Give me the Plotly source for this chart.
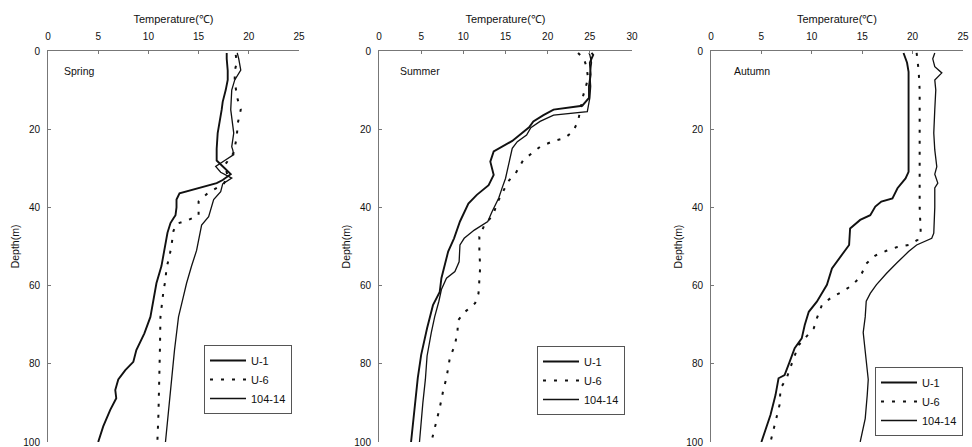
import plotly.graph_objects as go

# ---------------- data ----------------
x_ticks = [0, 5, 10, 15, 20, 25]
x_ticks_summer = [0, 5, 10, 15, 20, 25, 30]
depth_ticks = [0, 20, 40, 60, 80, 100]
series_names = ["U-1", "U-6", "104-14"]
season_names = ["Spring", "Summer", "Autumn"]

# Spring
spring_u1_depth = [0.5, 2, 5, 7.4, 10, 13, 15, 18, 21, 25, 28, 30, 31.5, 33, 33.8, 36.4, 38, 40, 42, 42.8, 44, 46.5, 51, 55, 59.4, 63.7, 68, 72.2, 76.5, 79.5, 81.6, 84, 86.7, 88.8, 91.8, 96, 100]
spring_u1_temp = [17.8, 17.8, 17.9, 17.9, 17.7, 17.4, 17.3, 17.1, 16.9, 16.8, 16.8, 17.6, 18.2, 17.4, 16.8, 13.1, 12.8, 12.8, 12.7, 12.5, 12.2, 11.9, 11.6, 11.3, 10.8, 10.5, 10.2, 9.6, 8.8, 8.5, 7.7, 7.0, 6.7, 6.8, 6.2, 5.5, 5.0]
spring_u6_depth = [1, 3, 5, 8, 12.5, 15, 18.5, 22, 26, 29.2, 32, 34, 36.4, 38.5, 42, 43.3, 44.2, 46, 49.7, 52.5, 55.5, 58.5, 61.4, 68, 76, 85, 93, 99.5]
spring_u6_temp = [18.7, 18.8, 18.6, 18.6, 18.9, 19.2, 18.9, 18.8, 18.5, 17.6, 17.9, 17.5, 15.9, 15.0, 15.0, 13.9, 12.8, 12.5, 12.3, 12.1, 11.8, 11.7, 11.5, 11.2, 11.15, 11.1, 11.0, 10.9]
spring_s104_depth = [0.5, 2, 4.9, 7.4, 10, 15, 21, 24.5, 25.3, 26.5, 28, 29.5, 31, 32.5, 34, 36, 38, 42.4, 44.5, 51, 55, 59.4, 63.7, 68, 76.5, 85, 93, 100]
spring_s104_temp = [18.85, 19.0, 19.2, 18.6, 18.3, 18.2, 18.5, 18.3, 18.4, 18.5, 17.6, 16.7, 17.2, 18.3, 17.4, 17.2, 16.5, 16.0, 15.3, 14.8, 14.3, 13.8, 13.4, 13.0, 12.6, 12.3, 12.0, 11.7]

# Summer
summer_u1_depth = [0.5, 1, 3, 6, 9, 12, 14, 15, 16.4, 18, 19.5, 21, 23, 25.7, 28.3, 31.7, 34.3, 36.8, 39, 43.6, 47.9, 51.3, 54.7, 58.1, 61.6, 65, 70.9, 77.7, 83.6, 92.2, 100]
summer_u1_temp = [25.2, 25.4, 25.0, 25.1, 24.9, 24.9, 24.1, 20.7, 19.5, 18.3, 17.8, 17.0, 15.8, 13.6, 13.2, 13.6, 13.0, 11.6, 10.6, 9.6, 8.9, 8.2, 7.8, 7.4, 7.2, 6.4, 5.7, 5.0, 4.6, 4.2, 3.8]
summer_u6_depth = [0.5, 2, 4, 7, 11.5, 15, 18, 20.6, 22.3, 23, 24.5, 26.2, 27.9, 30.9, 33.4, 36, 38.5, 42, 44.5, 47.5, 51.3, 55.2, 58.1, 62, 64.5, 66.7, 68.8, 71.8, 75.2, 78.5, 83.6, 87, 91.3, 95.6, 100]
summer_u6_temp = [23.6, 24.3, 24.6, 24.8, 24.2, 23.9, 23.6, 23.0, 22.0, 20.7, 19.1, 18.1, 17.1, 16.3, 15.3, 14.7, 14.1, 13.5, 12.5, 11.9, 11.9, 12.0, 11.9, 11.8, 11.4, 10.2, 9.4, 9.3, 9.0, 8.4, 8.0, 7.6, 7.2, 6.7, 6.2]
summer_s104_depth = [0.5, 1, 3, 6, 9, 12, 15.5, 16.4, 18, 19.6, 21.5, 23.2, 24.9, 29.2, 32.6, 35, 37.6, 41.1, 43.6, 45.8, 47.9, 49.6, 53.9, 56.4, 58.1, 61, 64, 68, 72, 78, 84, 90, 95, 100]
summer_s104_temp = [24.9, 25.0, 25.2, 25.0, 25.1, 25.0, 24.7, 20.7, 19.1, 18.0, 17.5, 16.4, 15.8, 15.4, 15.0, 14.6, 14.2, 13.4, 12.9, 11.3, 10.1, 9.6, 9.5, 9.0, 8.0, 7.4, 7.1, 6.6, 6.2, 5.7, 5.5, 5.2, 5.0, 4.8]

# Autumn
autumn_u1_depth = [0.5, 1.5, 3, 5.3, 10, 20, 30.9, 32.6, 35.1, 37.7, 38.5, 39.8, 42, 43.2, 45.4, 49.6, 52.2, 55.6, 59.8, 64.1, 66.7, 70.1, 73.5, 76, 79.5, 82.9, 83.7, 88, 93.1, 100]
autumn_u1_temp = [19.1, 19.25, 19.45, 19.6, 19.6, 19.6, 19.6, 19.3, 18.5, 18.0, 16.9, 16.3, 15.8, 14.8, 13.8, 13.7, 13.0, 12.0, 11.5, 10.5, 9.7, 9.3, 9.0, 8.3, 7.8, 7.3, 6.7, 6.4, 5.9, 5.0]
autumn_u6_depth = [0.5, 5, 10, 20, 30, 40, 46, 48.3, 49.6, 50.2, 51.1, 52.3, 54.4, 57.8, 59.9, 61.6, 62.9, 65, 68.4, 70.9, 73.5, 75.2, 78.6, 83.7, 86.3, 90.5, 94.8, 100]
autumn_u6_temp = [20.4, 20.6, 20.7, 20.7, 20.7, 20.7, 20.8, 20.5, 19.6, 18.4, 17.4, 16.3, 15.4, 14.8, 14.0, 13.0, 12.0, 11.0, 10.5, 10.2, 9.3, 8.7, 8.2, 7.5, 6.9, 6.8, 6.4, 5.9]
autumn_s104_depth = [0.5, 2, 4, 5.6, 7.4, 10, 15, 21, 25.3, 29.6, 31.5, 33.8, 35, 40, 46.6, 47.9, 49.6, 51.3, 54.3, 56.9, 59.8, 62, 64, 68, 72, 80.7, 84, 88, 94, 100]
autumn_s104_temp = [22.2, 22.0, 22.2, 22.9, 22.2, 22.3, 22.2, 22.1, 22.2, 22.4, 22.2, 22.5, 22.2, 22.2, 22.1, 21.9, 20.4, 19.6, 18.4, 17.4, 16.4, 15.8, 15.4, 15.3, 15.1, 15.5, 15.6, 15.5, 15.3, 14.8]

# ---------------- figure ----------------
W, H = 972, 447
ML, MR, MT, MB = 48, 9, 51, 5
PW = W - ML - MR
PH = H - MT - MB
FONT = "Liberation Sans, Arial, sans-serif"
INK = "#111111"
AXC = "#777777"

panels = [
    (season_names[0], [spring_u1_temp, spring_u6_temp, spring_s104_temp],
     [spring_u1_depth, spring_u6_depth, spring_s104_depth], [0, 25], x_ticks, (48, 299), (204, 347), 1.4),
    (season_names[1], [summer_u1_temp, summer_u6_temp, summer_s104_temp],
     [summer_u1_depth, summer_u6_depth, summer_s104_depth], [0, 30], x_ticks_summer, (379, 632), (537, 348), 2.3),
    (season_names[2], [autumn_u1_temp, autumn_u6_temp, autumn_s104_temp],
     [autumn_u1_depth, autumn_u6_depth, autumn_s104_depth], [0, 25], x_ticks, (711, 963), (875, 369), 2.1),
]

styles = [
    dict(color=INK, width=1.9, dash="solid"),
    dict(color=INK, width=2.0, dash="3px,8px"),
    dict(color=INK, width=1.3, dash="solid"),
]

fig = go.Figure()
layout = dict(
    width=W, height=H,
    margin=dict(l=ML, r=MR, t=MT, b=MB, autoexpand=False),
    paper_bgcolor="white", plot_bgcolor="white",
    font=dict(family=FONT, size=10, color=INK),
    annotations=[],
)

for i, (season, temps, depths, xr, xt, (px0, px1), (lx, ly), ann_x) in enumerate(panels):
    k = "" if i == 0 else str(i + 1)
    legname = "legend" + k
    for j in range(3):
        fig.add_trace(go.Scatter(
            x=temps[j], y=depths[j], mode="lines", name=series_names[j],
            line=styles[j], xaxis="x" + k, yaxis="y" + k, legend=legname,
        ))
    layout["xaxis" + k] = dict(
        domain=[(px0 - ML) / PW, (px1 - ML) / PW], range=xr, side="top",
        anchor="y" + k, tickvals=xt, ticks="inside", ticklen=3, tickcolor=AXC,
        showline=True, linecolor=AXC, linewidth=1, showgrid=False, zeroline=False,
        ticklabelstandoff=6, tickfont=dict(size=10), automargin=False,
        ticklabeloverflow="allow",
        title=dict(text="Temperature(\u2103)", font=dict(size=11), standoff=5),
    )
    layout["yaxis" + k] = dict(
        domain=[0, 1], range=[100, 0], anchor="x" + k, tickvals=depth_ticks,
        ticks="inside", ticklen=3, tickcolor=AXC, showline=True, linecolor=AXC,
        linewidth=1, showgrid=False, zeroline=False, ticklabelstandoff=5,
        tickfont=dict(size=10), automargin=False, ticklabeloverflow="allow",
        title=dict(text="Depth(m)", font=dict(size=10.5), standoff=1),
    )
    layout[legname] = dict(
        x=(lx - ML) / PW, y=(H - MB - ly + 2) / PH, xanchor="left", yanchor="top",
        bordercolor="#555555", borderwidth=1, bgcolor="white",
        font=dict(size=11), tracegroupgap=0, itemwidth=36,
    )
    layout["annotations"].append(dict(
        x=ann_x, y=5.1, xref="x" + k, yref="y" + k, text=season, showarrow=False,
        xanchor="left", yanchor="middle", font=dict(size=10.5),
    ))

fig.update_layout(**layout)
fig.write_html(
    "out.html",
    config={"displayModeBar": False},
    post_script="document.body.style.margin='0';document.body.style.overflow='hidden';",
)
